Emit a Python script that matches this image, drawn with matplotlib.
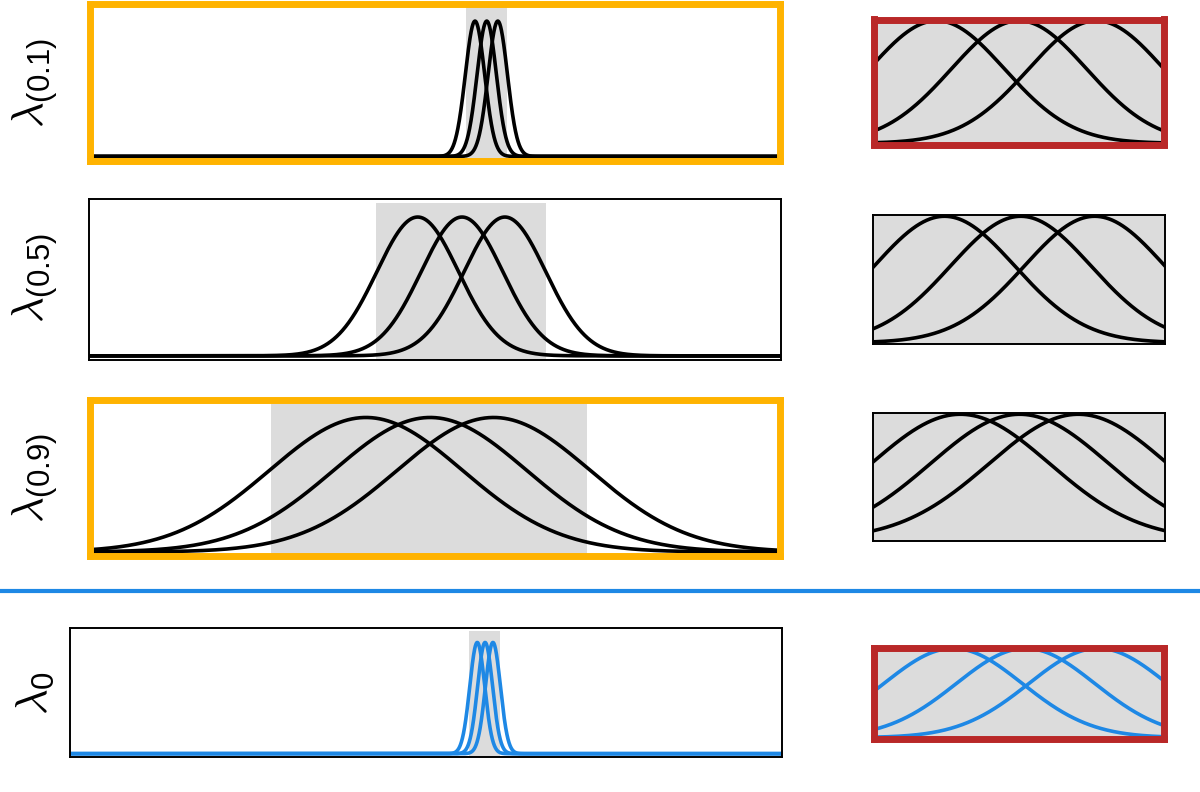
import numpy as np
import matplotlib.pyplot as plt
from matplotlib.lines import Line2D

plt.rcParams['mathtext.fontset'] = 'cm'
plt.rcParams['font.family'] = ['Liberation Sans', 'DejaVu Sans']

# one row per panel pair: label, gaussian centres, width, shaded band
labels = [r'$\lambda_{\mathdefault{(0.1)}}$', r'$\lambda_{\mathdefault{(0.5)}}$',
          r'$\lambda_{\mathdefault{(0.9)}}$', r'$\lambda_{\mathdefault{0}}$']
centers = [[0.558, 0.575, 0.591],
           [0.475, 0.539, 0.601],
           [0.400, 0.493, 0.585],
           [0.572, 0.583, 0.594]]
sigmas = [0.0140, 0.059, 0.14, 0.0105]
shade_lo = [0.545, 0.415, 0.263, 0.560]
shade_hi = [0.605, 0.660, 0.721, 0.604]

orange = '#FFB300'
red = '#B92828'
blue = '#1E88E5'
grey = '#DCDCDC'

line_col = ['black', 'black', 'black', blue]
left_frame = [orange, 'black', orange, 'black']
right_frame = [red, 'black', 'black', red]

W, H = 1200, 792
# pixel boxes (x0, x1, y0, y1) of the axes
left_box = [(90, 780, 3.5, 160.5), (89, 781, 199, 360), (90, 780, 400, 556), (70, 782, 628, 757)]
right_box = [(874, 1164, 19.5, 144.5), (873, 1165, 215, 344), (873, 1165, 413, 541), (874, 1164, 647.5, 738.5)]
label_y = [83, 278, 478, 693]

def box(b):
    x0, x1, y0, y1 = b
    return [x0 / W, 1 - y1 / H, (x1 - x0) / W, (y1 - y0) / H]

def gauss(x, c, s):
    return np.exp(-(x - c) ** 2 / (2 * s ** 2))

fig = plt.figure(figsize=(12, 7.92), dpi=100)

for i in range(4):
    # left: full view
    ax = fig.add_axes(box(left_box[i]))
    ax.axvspan(shade_lo[i], shade_hi[i], ymin=0, ymax=0.975, color=grey, lw=0, zorder=0)
    x = np.linspace(0, 1, 4000)
    for c in centers[i]:
        ax.plot(x, gauss(x, c, sigmas[i]), color=line_col[i], lw=2.6, solid_capstyle='butt')
    ax.set_xlim(0, 1)
    ax.set_ylim(-0.03, 1.13)
    ax.set_xticks([])
    ax.set_yticks([])
    thick = left_frame[i] != 'black'
    for sp in ax.spines.values():
        sp.set_color(left_frame[i])
        sp.set_linewidth(5 if thick else 1.4)

    # right: zoom on the shaded band
    axr = fig.add_axes(box(right_box[i]))
    axr.set_facecolor(grey)
    xr = np.linspace(shade_lo[i], shade_hi[i], 500)
    for c in centers[i]:
        axr.plot(xr, gauss(xr, c, sigmas[i]), color=line_col[i], lw=2.6)
    axr.set_xlim(shade_lo[i], shade_hi[i])
    axr.set_ylim(-0.01, 1.01)
    axr.set_xticks([])
    axr.set_yticks([])
    thick = right_frame[i] != 'black'
    for sp in axr.spines.values():
        sp.set_color(right_frame[i])
        sp.set_linewidth(5 if thick else 1.4)

    fig.text(36 / W, 1 - label_y[i] / H, labels[i], rotation=90, fontsize=32,
             ha='center', va='center')

# blue separator between the rows
fig.add_artist(Line2D([0, 1], [1 - 591 / H, 1 - 591 / H], color=blue, lw=3,
                      transform=fig.transFigure))

fig.savefig('out.png', dpi=100)
